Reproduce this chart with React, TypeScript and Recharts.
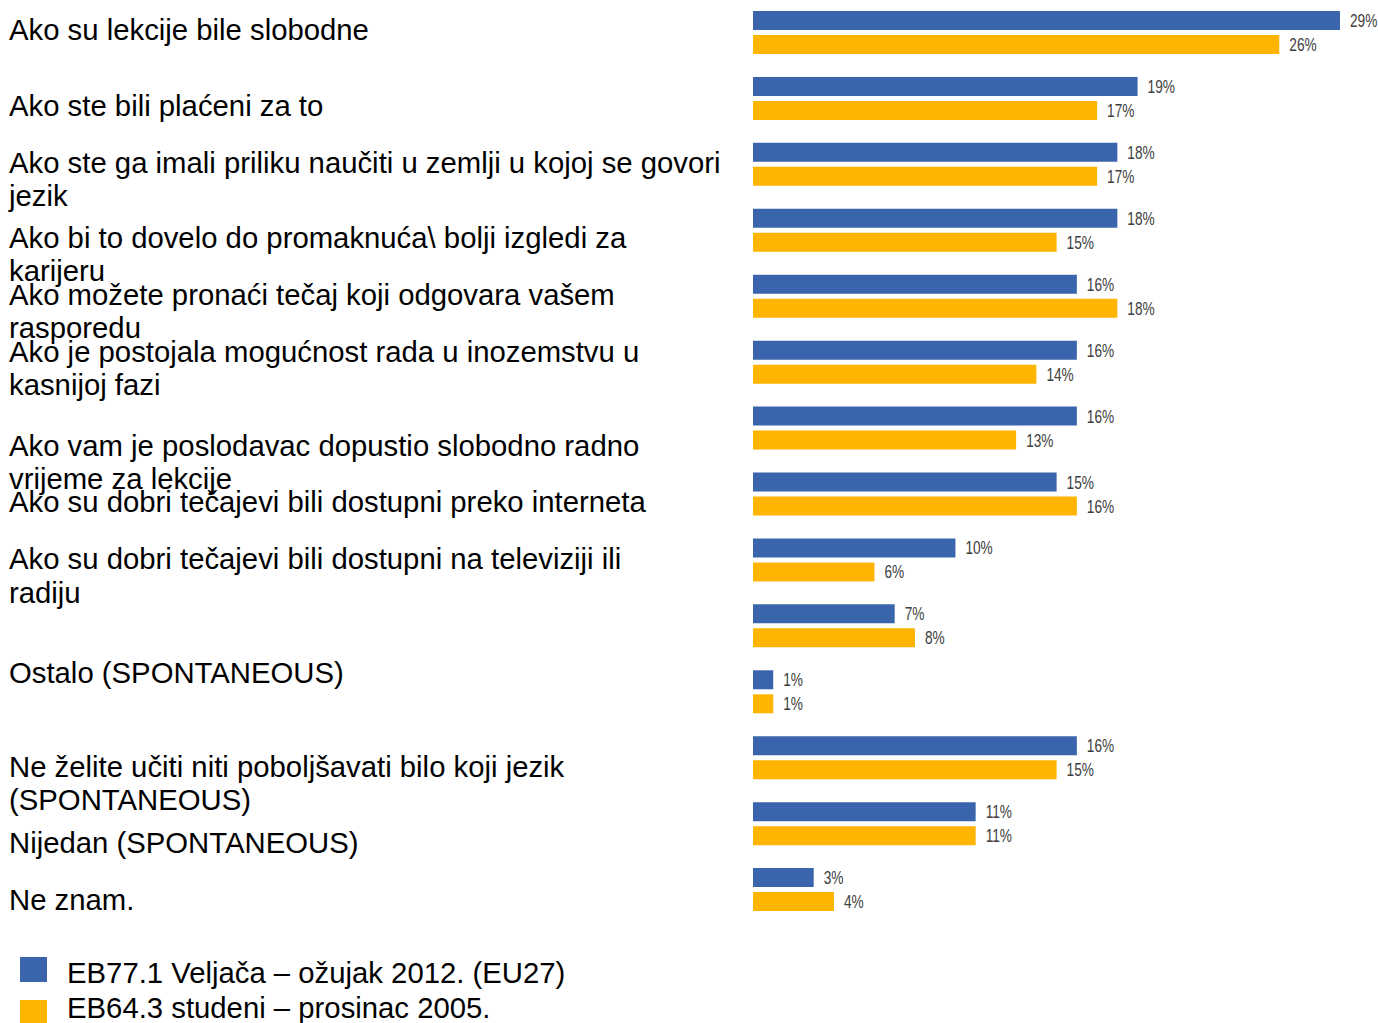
import React from 'react';
import { BarChart, Bar, XAxis, YAxis, Legend, LabelList } from 'recharts';

// values in %
const categories = [
  'Ako su lekcije bile slobodne',
  'Ako ste bili plaćeni za to',
  'Ako ste ga imali priliku naučiti u zemlji u kojoj se govori\njezik',
  'Ako bi to dovelo do promaknuća\\ bolji izgledi za\nkarijeru',
  'Ako možete pronaći tečaj koji odgovara vašem\nrasporedu',
  'Ako je postojala mogućnost rada u inozemstvu u\nkasnijoj fazi',
  'Ako vam je poslodavac dopustio slobodno radno\nvrijeme za lekcije',
  'Ako su dobri tečajevi bili dostupni preko interneta',
  'Ako su dobri tečajevi bili dostupni na televiziji ili\nradiju',
  '',
  'Ostalo (SPONTANEOUS)',
  'Ne želite učiti niti poboljšavati bilo koji jezik\n(SPONTANEOUS)',
  'Nijedan (SPONTANEOUS)',
  'Ne znam.',
];
const eb2012 = [29, 19, 18, 18, 16, 16, 16, 15, 10, 7, 1, 16, 11, 3];
const eb2005 = [26, 17, 17, 15, 18, 14, 13, 16, 6, 8, 1, 15, 11, 4];
const seriesNames = ['EB77.1 Veljača – ožujak 2012. (EU27)', 'EB64.3 studeni – prosinac 2005.'];

const BLUE = '#3A64AB';
const YELLOW = '#FFB400';
const FONT = '"Liberation Sans", Arial, sans-serif';

// the category texts in the original sit a little off their bar pairs
const labelShift = [-3.5, 6.5, -2.5, 6.5, -2.5, -11.5, 16.5, 7.5, -1.5, 0, -20, 8, 18, 9.5];

const data = categories.map((name, i) => ({ name, a: eb2012[i], b: eb2005[i] }));

if (typeof document !== 'undefined') document.body.style.margin = '0';

const CategoryTick = (props: any) => {
  const { y, payload } = props;
  const idx = payload.index;
  const lines = String(categories[idx] ?? '').split('\n');
  const base = y + 10.5 + (labelShift[idx] || 0);
  return (
    <text x={9} y={base} fill="#000" fontSize={29.3} fontFamily={FONT}>
      {lines.map((l, i) => (
        <tspan key={i} x={9} dy={i === 0 ? 0 : 33.5}>{l}</tspan>
      ))}
    </text>
  );
};

const ValueLabel = (props: any) => {
  const { x, y, width, height, value } = props;
  const tx = x + width + 10;
  const ty = y + height / 2 + 6.5;
  return (
    <text transform={`translate(${tx},${ty}) scale(0.76,1)`} fill="#404040" fontSize={18} fontFamily={FONT}>
      {value}%
    </text>
  );
};

const LegendBox = () => (
  <div style={{ position: 'relative', width: 700, height: 73, fontFamily: FONT, fontSize: 29.3, color: '#000' }}>
    <div style={{ position: 'absolute', left: 20, top: 5, width: 27, height: 25, background: BLUE }} />
    <div style={{ position: 'absolute', left: 20, top: 48, width: 27, height: 25, background: YELLOW }} />
    <div style={{ position: 'absolute', left: 67, top: 4, lineHeight: '34px', whiteSpace: 'nowrap' }}>{seriesNames[0]}</div>
    <div style={{ position: 'absolute', left: 67, top: 39, lineHeight: '34px', whiteSpace: 'nowrap' }}>{seriesNames[1]}</div>
  </div>
);

export default function App() {
  return (
    <div style={{ width: 1378, height: 1023, overflow: 'hidden', background: '#fff' }}>
      <BarChart
        width={1378}
        height={1023}
        data={data}
        layout="vertical"
        margin={{ top: 0, right: 38, bottom: 100, left: 0 }}
        barSize={19}
        barGap={5}
        style={{ fontFamily: FONT }}
      >
        <XAxis type="number" domain={[0, 29]} hide />
        <YAxis
          type="category"
          dataKey="name"
          width={753}
          axisLine={false}
          tickLine={false}
          interval={0}
          tick={<CategoryTick />}
        />
        <Legend
          layout="vertical"
          align="center"
          verticalAlign="middle"
          wrapperStyle={{ top: 952, left: 0, width: 700 }}
          content={<LegendBox />}
        />
        <Bar dataKey="a" name={seriesNames[0]} fill={BLUE} isAnimationActive={false}>
          <LabelList dataKey="a" content={<ValueLabel />} />
        </Bar>
        <Bar dataKey="b" name={seriesNames[1]} fill={YELLOW} isAnimationActive={false}>
          <LabelList dataKey="b" content={<ValueLabel />} />
        </Bar>
      </BarChart>
    </div>
  );
}
